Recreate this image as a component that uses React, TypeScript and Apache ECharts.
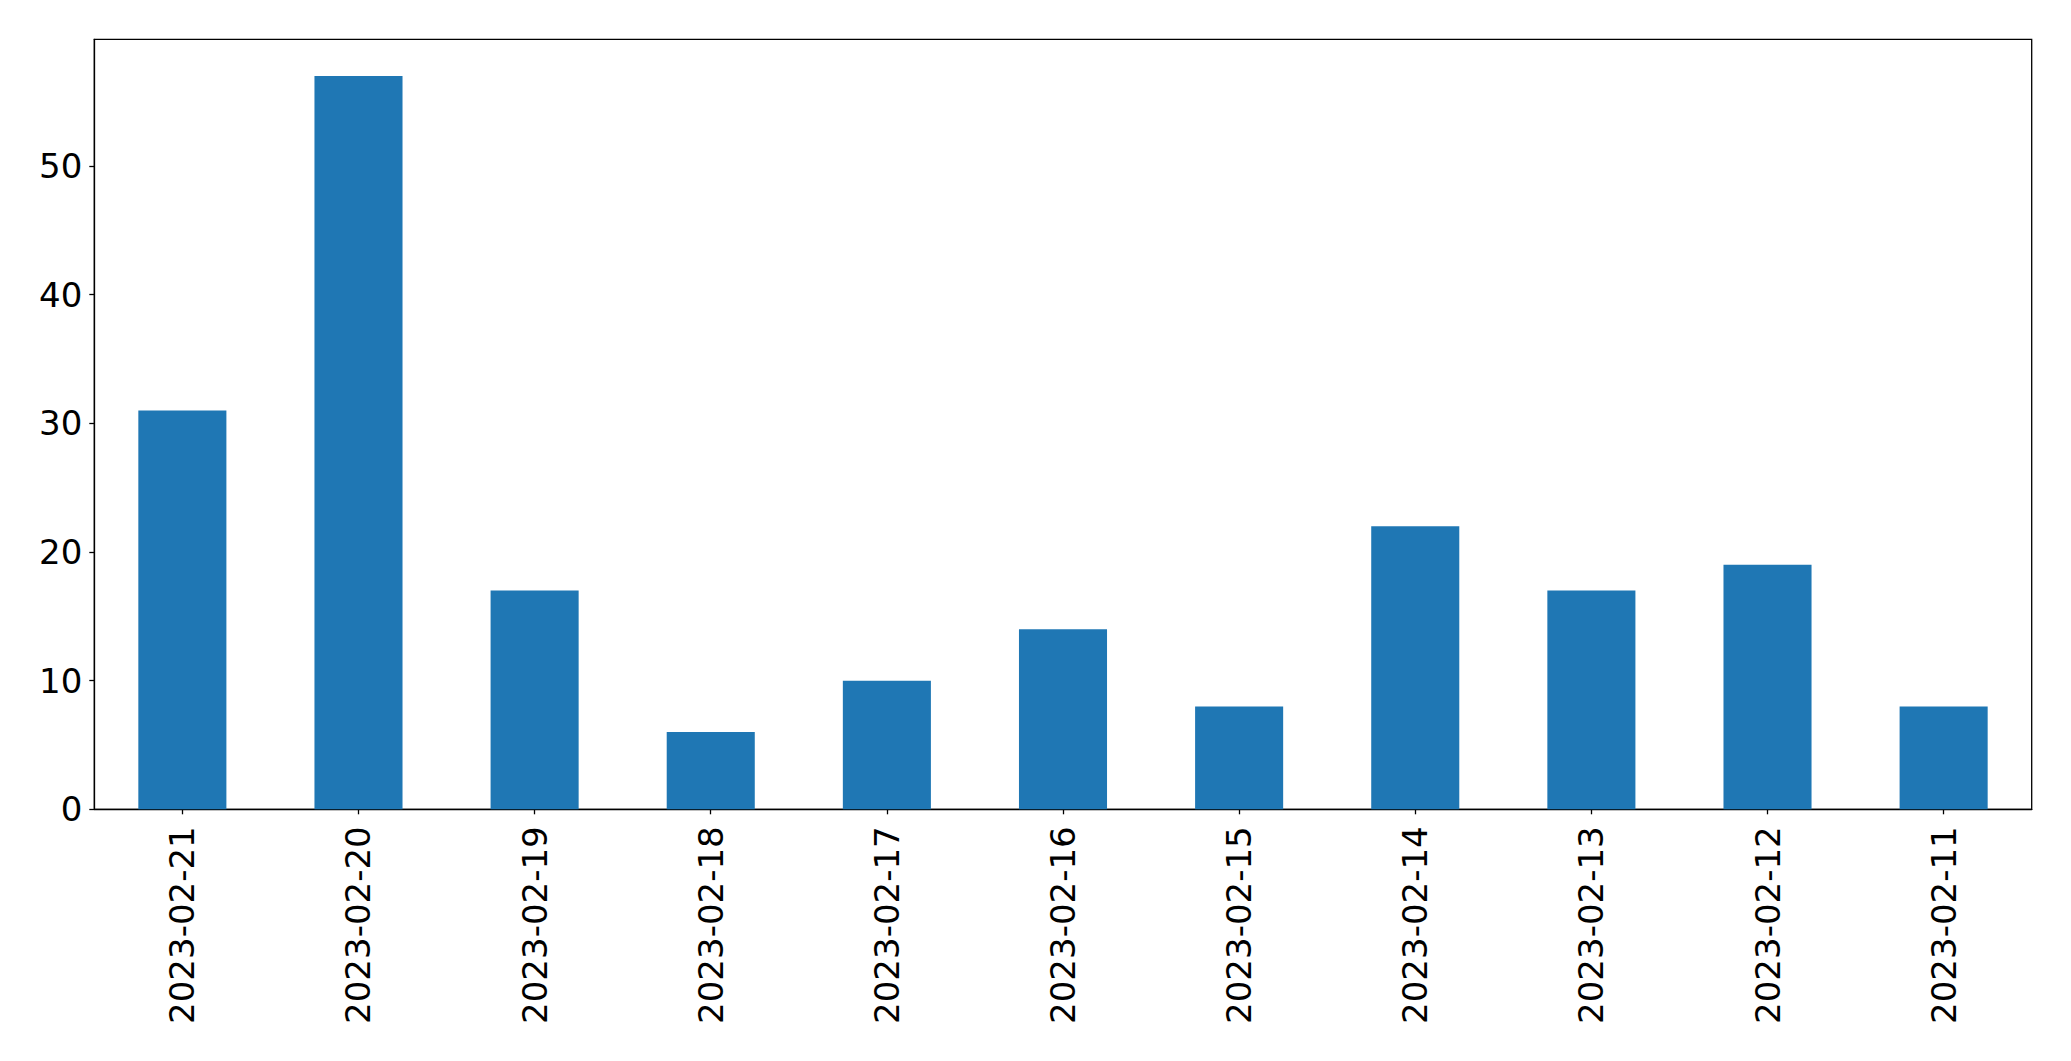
import React, { useEffect, useRef } from "react";
import * as echarts from "echarts";

const categories = [
  "2023-02-21", "2023-02-20", "2023-02-19", "2023-02-18", "2023-02-17", "2023-02-16",
  "2023-02-15", "2023-02-14", "2023-02-13", "2023-02-12", "2023-02-11",
];
const counts = [31, 57, 17, 6, 10, 14, 8, 22, 17, 19, 8];
const yMax = 59.85;
const yInterval = 10;

export default function App() {
  const ref = useRef<HTMLDivElement>(null);
  useEffect(() => {
    if (!ref.current) return;
    const chart = echarts.init(ref.current, null, { renderer: "svg" });
    const font = "DejaVu Sans";
    chart.setOption({
      animation: false,
      backgroundColor: "#ffffff",
      grid: {
        left: 94.3,
        top: 39.3,
        width: 1937.4,
        height: 770,
        show: true,
        borderColor: "#000000",
        borderWidth: 1.3,
        containLabel: false,
      },
      xAxis: {
        type: "category",
        data: categories,
        axisLine: { show: true, lineStyle: { color: "#000", width: 1.3 } },
        axisTick: { show: true, alignWithLabel: true, length: 5, lineStyle: { color: "#000", width: 1.3 } },
        axisLabel: {
          rotate: 90,
          margin: 17,
          color: "#000",
          fontFamily: font,
          fontSize: 34,
          interval: 0,
        },
        splitLine: { show: false },
      },
      yAxis: {
        type: "value",
        min: 0,
        max: yMax,
        interval: yInterval,
        axisLine: { show: true, lineStyle: { color: "#000", width: 1.3 } },
        axisTick: { show: true, length: 5, lineStyle: { color: "#000", width: 1.3 } },
        axisLabel: {
          margin: 12,
          color: "#000",
          fontFamily: font,
          fontSize: 34,
          showMaxLabel: false,
          formatter: (v: number) => (Math.abs(v % yInterval) < 1e-9 ? String(v) : ""),
        },
        splitLine: { show: false },
      },
      series: [
        {
          type: "bar",
          data: counts,
          barWidth: "50%",
          itemStyle: { color: "#1f77b4" },
        },
      ],
    });
    return () => chart.dispose();
  }, []);
  return (
    <div
      ref={ref}
      style={{ position: "fixed", left: 0, top: 0, width: 2071, height: 1061, background: "#fff" }}
    />
  );
}
